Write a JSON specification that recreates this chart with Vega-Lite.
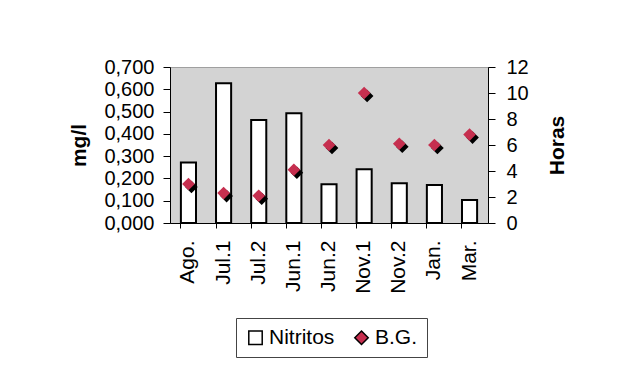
{
  "$schema": "https://vega.github.io/schema/vega-lite/v6.json",
  "width": 318,
  "height": 156,
  "autosize": "none",
  "padding": {"left": 170, "top": 67, "right": 129, "bottom": 157},
  "background": "white",
  "config": {
    "font": "Liberation Sans",
    "view": {"fill": "#d3d3d3", "stroke": "#555", "strokeDash": [1, 1]},
    "axis": {"labelColor": "black", "titleColor": "black", "domainColor": "black", "tickColor": "black", "labelFontSize": 20, "titleFontSize": 21, "titleFontWeight": "bold", "grid": false, "labelFont": "Liberation Sans", "titleFont": "Liberation Sans"},
    "legend": {"labelFont": "Liberation Sans", "labelFontSize": 21, "labelColor": "black"}
  },
  "data": {
    "values": [
      {"mes": "Ago.", "nitritos": 0.272, "bg": 3.0},
      {"mes": "Jul.1", "nitritos": 0.627, "bg": 2.3},
      {"mes": "Jul.2", "nitritos": 0.462, "bg": 2.1},
      {"mes": "Jun.1", "nitritos": 0.492, "bg": 4.1},
      {"mes": "Jun.2", "nitritos": 0.174, "bg": 6.0},
      {"mes": "Nov.1", "nitritos": 0.241, "bg": 10.0},
      {"mes": "Nov.2", "nitritos": 0.178, "bg": 6.1},
      {"mes": "Jan.", "nitritos": 0.171, "bg": 6.0},
      {"mes": "Mar.", "nitritos": 0.103, "bg": 6.8}
    ]
  },
  "encoding": {
    "x": {
      "field": "mes", "type": "nominal", "sort": null,
      "scale": {"paddingInner": 0.57, "paddingOuter": 0.31},
      "axis": {"title": null, "labelAngle": -90, "labelAlign": "right", "labelBaseline": "middle", "labelPadding": 12, "tickSize": 5, "bandPosition": 0, "labelFontSize": 21}
    }
  },
  "layer": [
    {
      "mark": {"type": "bar", "stroke": "black", "strokeWidth": 2},
      "encoding": {
        "y": {
          "field": "nitritos", "type": "quantitative",
          "scale": {"domain": [0, 0.7], "nice": false},
          "axis": {"title": "mg/l", "orient": "left", "values": [0, 0.1, 0.2, 0.3, 0.4, 0.5, 0.6, 0.7], "labelExpr": "replace(format(datum.value, '.3f'), '.', ',')", "tickSize": 7, "labelPadding": 9, "titlePadding": 14}
        },
        "fill": {
          "datum": "Nitritos", "type": "nominal",
          "scale": {"domain": ["Nitritos", "B.G."], "range": ["white", "#c62f4f"]},
          "legend": {"title": null, "orient": "none", "legendX": 66, "legendY": 251, "direction": "horizontal", "columns": 2, "columnPadding": 16, "padding": 9, "strokeColor": "#444", "symbolSize": 180, "labelOffset": 3, "symbolStrokeWidth": 1.5,
            "encode": {"symbols": {"update": {"stroke": {"signal": "datum.label === 'Nitritos' ? 'black' : 'transparent'"}}}}}
        }
      }
    },
    {
      "encoding": {
        "y": {
          "field": "bg", "type": "quantitative",
          "scale": {"domain": [0, 12], "nice": false},
          "axis": {"title": "Horas", "orient": "right", "values": [0, 2, 4, 6, 8, 10, 12], "tickSize": 7, "labelPadding": 11, "titlePadding": 18, "titleAngle": -90, "titleBaseline": "top"}
        }
      },
      "layer": [
        {
          "mark": {"type": "point", "shape": "diamond", "filled": true, "color": "black", "opacity": 1, "size": 160, "xOffset": 3, "yOffset": 3}
        },
        {
          "mark": {"type": "point", "filled": true, "opacity": 1, "size": 160},
          "encoding": {
            "fill": {"datum": "B.G.", "type": "nominal", "legend": {"title": null, "orient": "none", "legendX": 66, "legendY": 251, "direction": "horizontal", "columns": 2}},
            "shape": {
              "datum": "B.G.", "type": "nominal",
              "scale": {"domain": ["Nitritos", "B.G."], "range": ["square", "diamond"]},
              "legend": {"title": null, "orient": "none", "legendX": 66, "legendY": 251, "direction": "horizontal", "columns": 2}
            }
          }
        }
      ]
    }
  ],
  "resolve": {"scale": {"y": "independent"}}
}
